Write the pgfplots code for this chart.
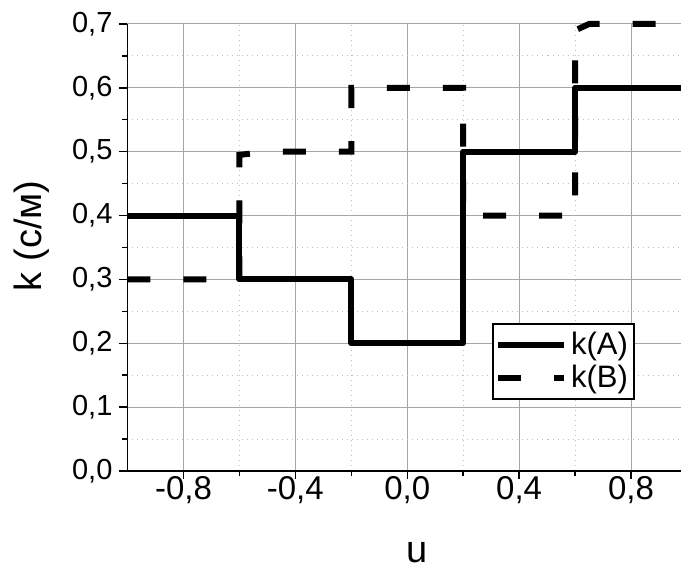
\documentclass[border=0pt]{standalone}
\usepackage{fontspec}
\setmainfont{Liberation Sans}
\usepackage{pgfplots}
\pgfplotsset{compat=1.18}

\begin{document}
\begin{tikzpicture}
\begin{axis}[%
scale only axis,
width=276.75pt,
height=223.5pt,
xmin=-1, xmax=0.9786,
ymin=0, ymax=0.7,
clip=false,
axis lines=left,
axis line style={-, line width=0.7pt, black},
xtick={-0.8,-0.4,0,0.4,0.8},
minor xtick={-0.6,-0.2,0.2,0.6},
ytick={0,0.1,...,0.7},
minor ytick={0.05,0.15,...,0.65},
tick align=outside,
major tick length=4pt,
minor tick length=2.5pt,
tick style={black, line width=0.7pt},
xmajorgrids, ymajorgrids, xminorgrids, yminorgrids,
major grid style={line width=0.5pt, color=black!35},
minor grid style={line width=0.5pt, color=black!25, dotted},
xticklabel style={font=\fontsize{16.5}{19}\selectfont, yshift=5pt},
yticklabel style={font=\fontsize{14.5}{17}\selectfont},
/pgf/number format/.cd, use comma, fixed, fixed zerofill, precision=1, assume math mode=true,
/pgfplots/.cd,
xlabel={u},
ylabel={k (с/м)},
label style={font=\fontsize{19}{22}\selectfont},
xlabel style={at={(axis cs:0.036,0)}, anchor=base, yshift=-46pt},
ylabel style={at={(axis description cs:-0.1725,0.526)}, anchor=center},
legend style={at={(axis cs:0.814,0.232)}, anchor=north east, draw=black, line width=1pt,
  font=\fontsize{15.5}{19}\selectfont, inner xsep=1pt, inner ysep=2pt,
  row sep=0pt, legend cell align=left},
legend image code/.code={\draw[#1] (0pt,0pt) -- (33pt,0pt);},
]
\coordinate (sw) at (rel axis cs:0,0);
\coordinate (ne) at (rel axis cs:1,1);

\addplot[black, line width=3pt, line join=round] coordinates {
(-1,0.4) (-0.6,0.4) (-0.6,0.3) (-0.2,0.3) (-0.2,0.2) (0.2,0.2)
(0.2,0.5) (0.6,0.5) (0.6,0.6) (1,0.6)
};
\addlegendentry{k(A)}

\addplot[black, line width=3pt, dash pattern=on 11.5pt off 16.5pt] coordinates {
(-1,0.3) (-0.6,0.3) (-0.6,0.495) (-0.5,0.5) (-0.2,0.5) (-0.2,0.6) (0.2,0.6)
(0.2,0.4) (0.6,0.4) (0.6,0.69) (0.65,0.7) (1,0.7)
};
\addlegendentry{k(B)}
\end{axis}
\pgfresetboundingbox
\path ([xshift=-63.75pt,yshift=-48.5pt]sw) rectangle ([yshift=12pt]ne);
\end{tikzpicture}
\end{document}
